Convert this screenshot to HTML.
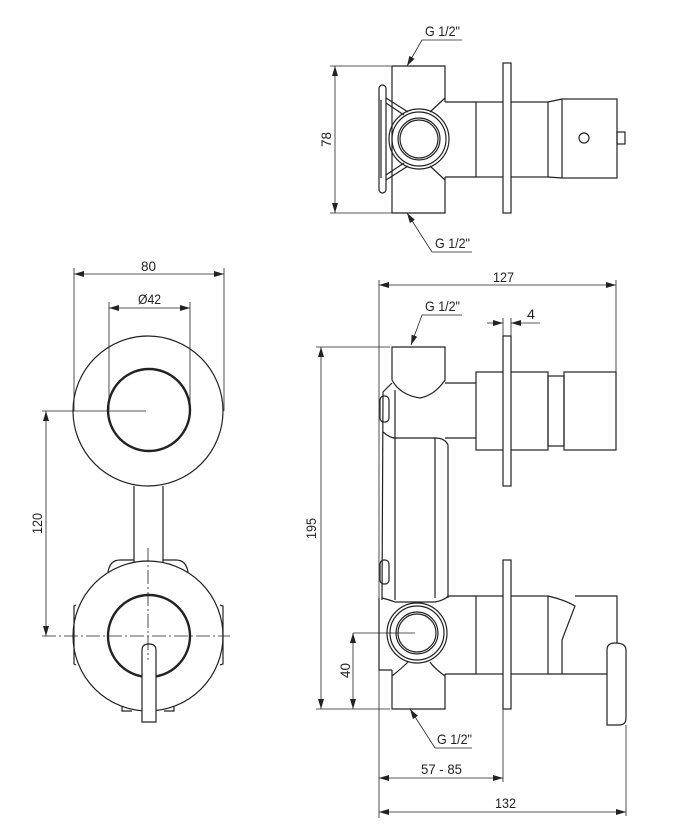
<!DOCTYPE html>
<html><head><meta charset="utf-8"><style>
html,body{margin:0;padding:0;background:#fff}
svg{display:block}
text{font-family:"Liberation Sans Narrow","Liberation Sans",sans-serif;font-size:14px;fill:#222}
</style></head><body>
<svg width="684" height="833" viewBox="0 0 684 833" xmlns="http://www.w3.org/2000/svg">
<defs>
<marker id="a" viewBox="0 0 10 6" refX="10" refY="3" markerWidth="10" markerHeight="6" orient="auto-start-reverse" markerUnits="userSpaceOnUse"><path d="M0,0 L10,3 L0,6 z" fill="#222"/></marker>
</defs>
<g fill="none" stroke="#222" stroke-width="1.2">
<!-- LEFT VIEW -->
<circle cx="148" cy="411" r="75"/>
<circle cx="149" cy="410" r="41" stroke-width="2.4"/>
<line x1="134" y1="486" x2="134" y2="562"/><line x1="163" y1="486" x2="163" y2="562"/>
<circle cx="148" cy="636" r="75"/>
<circle cx="149" cy="636" r="41" stroke-width="2.4"/>
<path d="M108,572 Q110,560 120,560 L134,560 M188,572 Q186,560 176,560 L163,560"/>
<path d="M76,605 L74,606 L74,664 L76,665 M220,605 L223,606 L223,664 L220,665"/>
<path d="M122,706 L122,711 L132,711 M174,706 L174,711 L164,711"/>
<path d="M142,722 L142,650 Q142,644 149,644 Q156,644 156,650 L156,722 Z" fill="#fff"/>
<g stroke-width="0.8">
<line x1="74" y1="268" x2="74" y2="411"/><line x1="224" y1="268" x2="224" y2="411"/>
<line x1="109" y1="302" x2="109" y2="410"/><line x1="190" y1="302" x2="190" y2="410"/>
<line x1="74" y1="274" x2="224" y2="274" marker-start="url(#a)" marker-end="url(#a)"/>
<line x1="109" y1="308" x2="190" y2="308" marker-start="url(#a)" marker-end="url(#a)"/>
<line x1="42" y1="411" x2="146" y2="411"/>
<line x1="46" y1="411" x2="46" y2="636" marker-start="url(#a)" marker-end="url(#a)"/>
<line x1="42" y1="636" x2="230" y2="636" stroke-dasharray="14,3,2,3"/>
<line x1="148" y1="548" x2="148" y2="660" stroke-dasharray="14,3,2,3"/>
</g>

<!-- TOP RIGHT VIEW -->
<path d="M392,66 L445,66 L445,102 M445,177 L445,213 L392,213 L392,66"/>
<path d="M386,98 L408,112 M386,103 L404,115 M445,98 L430,112 M386,180 L408,166 M386,175 L404,163 M445,180 L430,166"/>
<circle cx="419" cy="139" r="30"/><circle cx="419" cy="139" r="27"/>
<circle cx="419" cy="139" r="21"/><circle cx="419" cy="139" r="19"/>
<rect x="379" y="85" width="7" height="108" rx="3.5"/>
<line x1="381" y1="100" x2="381" y2="178"/>
<line x1="445" y1="102" x2="476" y2="102"/><line x1="445" y1="177" x2="476" y2="177"/>
<rect x="476" y="102" width="72" height="75"/>
<rect x="503" y="63" width="8" height="150" fill="#fff"/>
<path d="M548,102 L562,99 M548,177 L562,178"/>
<rect x="562" y="99" width="55" height="79"/>
<circle cx="584" cy="138" r="5"/>
<rect x="617" y="132" width="8" height="12"/>
<g stroke-width="0.8">
<line x1="330" y1="66" x2="392" y2="66"/><line x1="330" y1="213" x2="392" y2="213"/>
<line x1="335" y1="66" x2="335" y2="213" marker-start="url(#a)" marker-end="url(#a)"/>
<polyline points="462,40 422,40 407,66" marker-end="url(#a)"/>
<polyline points="472,252 432,252 407,213" marker-end="url(#a)"/>
</g>

<!-- MIDDLE RIGHT VIEW -->
<path d="M392,347 L445,347 L445,380 Q435,395 420,398 Q400,395 392,380 Z"/>
<path d="M445,383 L476,383 M445,438 L476,438"/>
<path d="M392,383 L383,392 L382,600 M395,390 L395,600 M383,432 Q390,438 395,438 L435,438 Q445,438 448,445 L448,598 M435,438 L435,598"/>
<rect x="380" y="396" width="9" height="26" rx="4"/>
<rect x="380" y="560" width="9" height="24" rx="4"/>
<rect x="476" y="372" width="72" height="78"/>
<rect x="503" y="336" width="8" height="150" fill="#fff"/>
<rect x="548" y="376" width="16" height="70"/>
<rect x="564" y="372" width="52" height="78"/>
<!-- lower -->
<path d="M382,598 Q390,600 395,602 L435,602 Q445,600 448,596 L476,596 M445,674 L476,674"/>
<path d="M379,598 L379,670 L392,670 M392,670 L392,709 L445,709 L445,674"/>
<path d="M392,676 Q402,668 408,662 M445,676 Q434,668 430,662"/>
<circle cx="417" cy="633" r="30"/><circle cx="417" cy="633" r="27"/>
<circle cx="417" cy="633" r="21"/><circle cx="417" cy="633" r="19"/>
<rect x="476" y="596" width="72" height="78"/>
<rect x="503" y="560" width="8" height="149" fill="#fff"/>
<path d="M548,596 Q565,600 575,606 L562,640 L562,674 L548,674 M575,596 L617,596 L617,674 L562,674"/>
<path d="M607,725 L607,650 Q607,643 615,643 Q626,643 626,650 L626,718 Q626,725 619,725 Z" fill="#fff"/>
<g stroke-width="0.8">
<line x1="379" y1="280" x2="379" y2="818"/>
<line x1="616" y1="280" x2="616" y2="372"/>
<line x1="379" y1="285" x2="616" y2="285" marker-start="url(#a)" marker-end="url(#a)"/>
<polyline points="462,315 422,315 411,345" marker-end="url(#a)"/>
<line x1="503" y1="318" x2="503" y2="336"/><line x1="511" y1="318" x2="511" y2="336"/>
<line x1="487" y1="323" x2="503" y2="323" marker-end="url(#a)"/>
<line x1="540" y1="323" x2="511" y2="323" marker-end="url(#a)"/>
<line x1="316" y1="347" x2="390" y2="347"/>
<line x1="316" y1="709" x2="390" y2="709"/>
<line x1="321" y1="347" x2="321" y2="709" marker-start="url(#a)" marker-end="url(#a)"/>
<line x1="353" y1="633" x2="415" y2="633"/>
<line x1="353" y1="633" x2="353" y2="709" marker-start="url(#a)" marker-end="url(#a)"/>
<polyline points="472,748 435,748 410,709" marker-end="url(#a)"/>
<line x1="503" y1="709" x2="503" y2="782"/>
<line x1="379" y1="778" x2="503" y2="778" marker-start="url(#a)" marker-end="url(#a)"/>
<line x1="626" y1="725" x2="626" y2="816"/>
<line x1="379" y1="812" x2="626" y2="812" marker-start="url(#a)" marker-end="url(#a)"/>
</g>
</g>
<!-- texts -->
<text x="141" y="271" textLength="15" lengthAdjust="spacingAndGlyphs">80</text>
<text x="138" y="304" textLength="23" lengthAdjust="spacingAndGlyphs">Ø42</text>
<text transform="translate(42,534) rotate(-90)" textLength="21" lengthAdjust="spacingAndGlyphs">120</text>
<text x="425" y="36" textLength="35" lengthAdjust="spacingAndGlyphs">G 1/2"</text>
<text x="435" y="248" textLength="35" lengthAdjust="spacingAndGlyphs">G 1/2"</text>
<text transform="translate(331,147) rotate(-90)" textLength="15" lengthAdjust="spacingAndGlyphs">78</text>
<text x="493" y="282" textLength="21" lengthAdjust="spacingAndGlyphs">127</text>
<text x="425" y="311" textLength="35" lengthAdjust="spacingAndGlyphs">G 1/2"</text>
<text x="527" y="319" textLength="8" lengthAdjust="spacingAndGlyphs">4</text>
<text transform="translate(316,539) rotate(-90)" textLength="21" lengthAdjust="spacingAndGlyphs">195</text>
<text transform="translate(350,678) rotate(-90)" textLength="15" lengthAdjust="spacingAndGlyphs">40</text>
<text x="437" y="744" textLength="35" lengthAdjust="spacingAndGlyphs">G 1/2"</text>
<text x="421" y="774" textLength="41" lengthAdjust="spacingAndGlyphs">57 - 85</text>
<text x="495" y="808" textLength="21" lengthAdjust="spacingAndGlyphs">132</text>
</svg>
</body></html>
